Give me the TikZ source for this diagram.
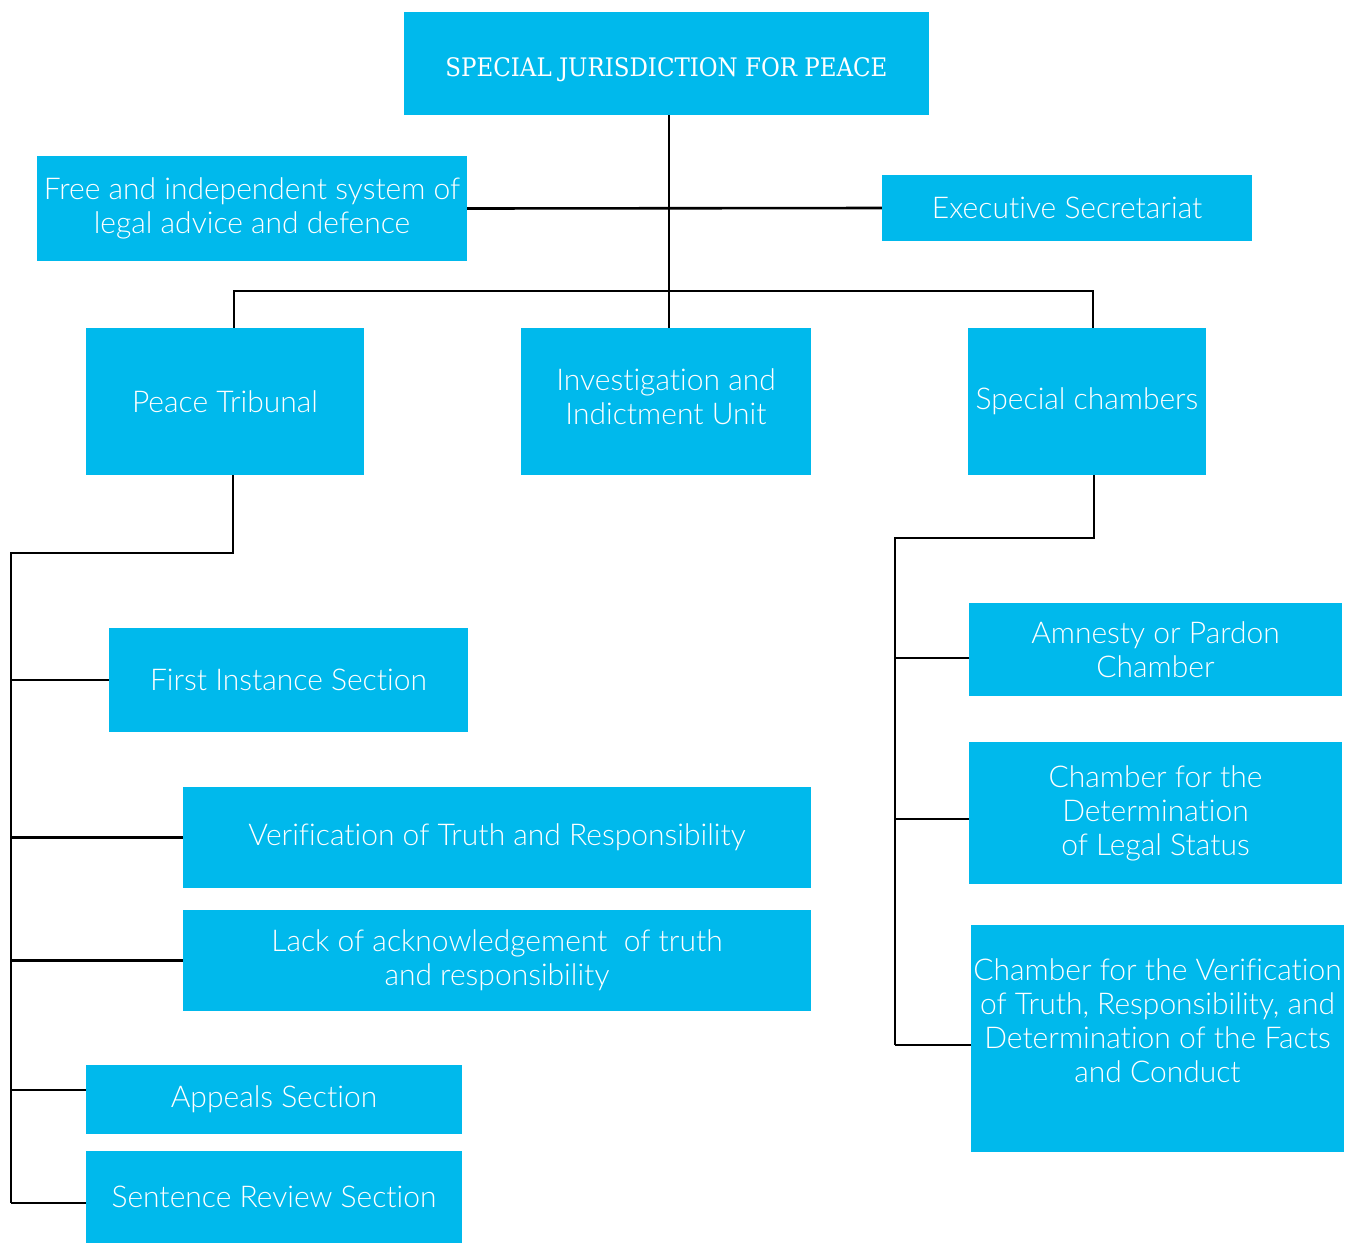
\documentclass[tikz,border=0pt]{standalone}
\usepackage{fontspec}
\setmainfont{Lato}[UprightFont={* Light}, Ligatures={NoCommon}]
\newfontfamily\titlefont{DejaVu Serif Condensed}
\definecolor{jep}{RGB}{0,185,236}
\tikzset{
  box/.style={fill=jep, text=white, inner sep=0pt, align=center,
    font=\fontsize{30}{34}\selectfont},
  txt/.style={text=white, inner sep=0pt, align=center,
    font=\fontsize{30}{34}\selectfont},
  link/.style={line width=2.6pt, black}
}
\begin{document}
\begin{tikzpicture}[x=1pt,y=-1pt]
\useasboundingbox (0,0) rectangle (1351,1243);
% boxes
\node[box, font=\titlefont\fontsize{25.5}{30}\selectfont, text height=26.6pt, text depth=0pt, minimum width=525pt, minimum height=103pt] (t) at (666.5,63.5) {SPECIAL JURISDICTION FOR PEACE};
\node[box, minimum width=430pt, minimum height=105pt] (free) at (252,208.5) {Free and independent system of\\legal advice and defence};
\node[box, minimum width=370pt, minimum height=66pt] (exec) at (1067,208) {Executive Secretariat};
\node[box, minimum width=278pt, minimum height=147pt] (pt) at (225,401.5) {Peace Tribunal};
\node[box, minimum width=290pt, minimum height=147pt] (inv) at (666,401.5) {Investigation and\\Indictment Unit\\[-24pt]\mbox{}};
\node[box, minimum width=238pt, minimum height=147pt] (sc) at (1087,401.5) {Special chambers};
\node[box, minimum width=359pt, minimum height=104pt] (fi) at (288.5,680) {First Instance Section};
\node[box, minimum width=628pt, minimum height=101pt] (ver) at (497,837.5) {Verification of Truth and Responsibility};
\node[box, minimum width=628pt, minimum height=101pt] (lack) at (497,960.5) {Lack of acknowledgement\ \ of truth\\and responsibility};
\node[box, minimum width=376pt, minimum height=69pt] (app) at (274,1099.5) {Appeals Section};
\node[box, minimum width=376pt, minimum height=92pt] (sent) at (274,1197) {Sentence Review Section};
\node[box, minimum width=373pt, minimum height=93pt] (amn) at (1155.5,649.5) {Amnesty or Pardon\\Chamber};
\node[box, minimum width=373pt, minimum height=142pt] (cls) at (1155.5,813) {Chamber for the\\Determination\\of Legal Status};
\node[box, minimum width=373pt, minimum height=227pt] (cvf) at (1157.5,1038.5) {};
\node[txt] (cvft) at (1157.5,1021) {Chamber for the Verification\\of Truth, Responsibility, and\\Determination of the Facts\\and Conduct};
% connectors
\coordinate (spine) at (669,291);
\coordinate (bl) at (234,291);
\coordinate (br) at (1093,291);
\coordinate (pl) at (11,553);
\coordinate (sl) at (895,538);
\draw[link] (t.south -| spine) -- (inv.north -| spine);
\draw[link] (free.east) -- (exec.west);
\draw[link] (pt.north -| bl) -- (bl) -- (br) -- (sc.north -| br);
\draw[link] ([xshift=8pt]pt.south) |- (pl) -- ([yshift=-6pt]sent.west -| pl);
\draw[link] (fi.west) -- (fi.west -| pl);
\draw[link] (ver.west) -- (ver.west -| pl);
\draw[link] (lack.west) -- (lack.west -| pl);
\draw[link] ([yshift=9.5pt]app.west) -- ([yshift=9.5pt]app.west -| pl);
\draw[link] ([yshift=-6pt]sent.west) -- ([yshift=-6pt]sent.west -| pl);
\draw[link] ([xshift=7pt]sc.south) |- (sl) -- ([yshift=-6.5pt]cvf.west -| sl);
\draw[link] ([yshift=-8.5pt]amn.west) -- ([yshift=-8.5pt]amn.west -| sl);
\draw[link] ([yshift=-6pt]cls.west) -- ([yshift=-6pt]cls.west -| sl);
\draw[link] ([yshift=-6.5pt]cvf.west) -- ([yshift=-6.5pt]cvf.west -| sl);
\end{tikzpicture}
\end{document}
